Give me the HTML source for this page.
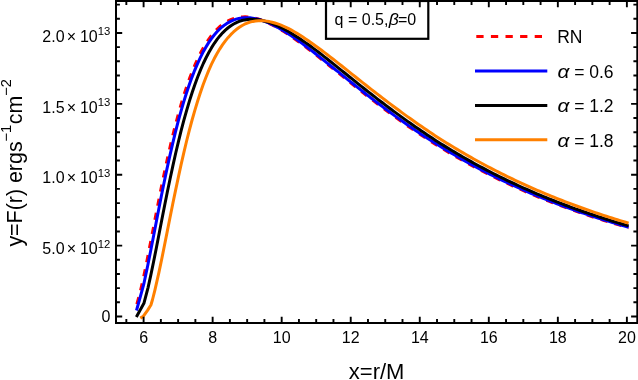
<!DOCTYPE html>
<html><head><meta charset="utf-8"><title>plot</title>
<style>html,body{margin:0;padding:0;background:#fff;overflow:hidden}body{width:638px;height:380px;position:relative;font-family:"Liberation Sans",sans-serif}</style>
</head><body>
<svg width="638" height="380" viewBox="0 0 638 380" style="position:absolute;left:0;top:0;will-change:transform">
<rect x="0" y="0" width="638" height="380" fill="#fff"/>
<clipPath id="cp"><rect x="116.0" y="1.0" width="521.3" height="322.0"/></clipPath>
<g clip-path="url(#cp)" fill="none" stroke-linejoin="round" stroke-linecap="butt">
<path d="M136.70 304.79 L140.15 292.21 L143.60 277.03 L147.05 260.25 L151.19 239.05 L153.96 224.70 L156.72 210.45 L159.48 196.43 L162.24 182.78 L165.00 169.59 L167.76 156.93 L170.53 144.83 L173.29 133.35 L176.05 122.49 L178.81 112.26 L181.57 102.69 L184.33 93.72 L187.10 85.36 L189.86 77.62 L192.62 70.46 L195.38 63.86 L198.14 57.79 L200.90 52.28 L203.66 47.24 L206.43 42.67 L209.19 38.57 L211.95 34.90 L214.71 31.63 L217.47 28.74 L220.23 26.23 L223.00 24.06 L225.76 22.20 L228.52 20.66 L231.28 19.41 L234.04 18.41 L236.80 17.67 L239.57 17.18 L242.33 16.90 L245.09 16.83 L247.85 16.95 L250.61 17.26 L253.37 17.73 L256.14 18.40 L258.90 19.23 L261.66 20.19 L264.42 21.28 L267.18 22.49 L269.94 23.80 L272.70 25.21 L275.47 26.71 L278.23 28.26 L280.99 29.89 L283.75 31.59 L286.51 33.35 L289.27 35.18 L292.04 37.06 L294.80 38.98 L297.56 40.96 L300.32 42.97 L303.08 45.02 L305.84 47.10 L308.61 49.21 L311.37 51.34 L314.13 53.49 L316.89 55.67 L319.65 57.86 L322.41 60.06 L325.18 62.27 L327.94 64.49 L330.70 66.72 L333.46 68.95 L336.22 71.19 L338.98 73.43 L341.74 75.66 L344.51 77.89 L347.27 80.12 L350.03 82.35 L352.79 84.56 L355.55 86.77 L358.31 88.97 L361.08 91.17 L363.84 93.35 L366.60 95.51 L369.36 97.65 L372.12 99.79 L374.88 101.91 L377.65 104.01 L380.41 106.11 L383.17 108.18 L385.93 110.25 L388.69 112.29 L391.45 114.32 L394.22 116.34 L396.98 118.33 L399.74 120.31 L402.50 122.28 L405.26 124.22 L408.02 126.15 L410.78 128.06 L413.55 129.95 L416.31 131.83 L419.07 133.68 L421.83 135.52 L424.59 137.34 L427.35 139.15 L430.12 140.93 L432.88 142.70 L435.64 144.44 L438.40 146.17 L441.16 147.87 L443.92 149.55 L446.69 151.21 L449.45 152.86 L452.21 154.48 L454.97 156.09 L457.73 157.68 L460.49 159.26 L463.26 160.82 L466.02 162.36 L468.78 163.88 L471.54 165.38 L474.30 166.87 L477.06 168.35 L479.82 169.80 L482.59 171.24 L485.35 172.66 L488.11 174.07 L490.87 175.46 L493.63 176.83 L496.39 178.19 L499.16 179.54 L501.92 180.86 L504.68 182.18 L507.44 183.47 L510.20 184.76 L512.96 186.02 L515.73 187.28 L518.49 188.51 L521.25 189.74 L524.01 190.95 L526.77 192.14 L529.53 193.32 L532.30 194.49 L535.06 195.64 L537.82 196.78 L540.58 197.90 L543.34 199.01 L546.10 200.11 L548.86 201.20 L551.63 202.27 L554.39 203.33 L557.15 204.38 L559.91 205.42 L562.67 206.44 L565.43 207.46 L568.20 208.46 L570.96 209.45 L573.72 210.43 L576.48 211.39 L579.24 212.35 L582.00 213.29 L584.77 214.23 L587.53 215.15 L590.29 216.06 L593.05 216.96 L595.81 217.85 L598.57 218.73 L601.34 219.60 L604.10 220.46 L606.86 221.31 L609.62 222.16 L612.38 222.99 L615.14 223.81 L617.90 224.62 L620.67 225.42 L623.43 226.22 L626.19 227.00 L628.61 227.69" stroke="#ff0000" stroke-width="3" stroke-dasharray="7.2 7.18" stroke-dashoffset="-0.6"/>
<path d="M136.50 310.50 L143.60 284.97 L147.74 265.55 L150.50 251.69 L153.27 237.48 L156.03 223.17 L158.79 208.98 L161.55 195.04 L164.31 181.48 L167.07 168.39 L169.84 155.83 L172.60 143.85 L175.36 132.47 L178.12 121.72 L180.88 111.62 L183.64 102.12 L186.40 93.27 L189.17 85.02 L191.93 77.35 L194.69 70.29 L197.45 63.79 L200.21 57.81 L202.97 52.35 L205.74 47.40 L208.50 42.91 L211.26 38.86 L214.02 35.26 L216.78 32.05 L219.54 29.21 L222.31 26.75 L225.07 24.63 L227.83 22.82 L230.59 21.31 L233.35 20.09 L236.11 19.14 L238.88 18.43 L241.64 17.97 L244.40 17.72 L247.16 17.67 L249.92 17.81 L252.68 18.14 L255.44 18.63 L258.21 19.28 L260.97 20.07 L263.73 20.99 L266.49 22.04 L269.25 23.20 L272.01 24.48 L274.78 25.84 L277.54 27.30 L280.30 28.84 L283.06 30.46 L285.82 32.15 L288.58 33.90 L291.35 35.75 L294.11 37.65 L296.87 39.59 L299.63 41.58 L302.39 43.61 L305.15 45.68 L307.92 47.77 L310.68 49.90 L313.44 52.05 L316.20 54.22 L318.96 56.40 L321.72 58.61 L324.48 60.82 L327.25 63.05 L330.01 65.28 L332.77 67.50 L335.53 69.72 L338.29 71.94 L341.05 74.16 L343.82 76.38 L346.58 78.60 L349.34 80.82 L352.10 83.02 L354.86 85.23 L357.62 87.42 L360.39 89.61 L363.15 91.78 L365.91 93.95 L368.67 96.10 L371.43 98.24 L374.19 100.36 L376.96 102.48 L379.72 104.57 L382.48 106.66 L385.24 108.73 L388.00 110.78 L390.76 112.82 L393.52 114.84 L396.29 116.85 L399.05 118.84 L401.81 120.81 L404.57 122.77 L407.33 124.70 L410.09 126.62 L412.86 128.53 L415.62 130.41 L418.38 132.28 L421.14 134.13 L423.90 135.96 L426.66 137.77 L429.43 139.57 L432.19 141.35 L434.95 143.11 L437.71 144.84 L440.47 146.55 L443.23 148.24 L446.00 149.92 L448.76 151.57 L451.52 153.21 L454.28 154.83 L457.04 156.44 L459.80 158.02 L462.56 159.59 L465.33 161.14 L468.09 162.67 L470.85 164.19 L473.61 165.69 L476.37 167.17 L479.13 168.64 L481.90 170.09 L484.66 171.52 L487.42 172.94 L490.18 174.34 L492.94 175.72 L495.70 177.09 L498.47 178.44 L501.23 179.78 L503.99 181.10 L506.75 182.41 L509.51 183.70 L512.27 184.98 L515.04 186.24 L517.80 187.49 L520.56 188.72 L523.32 189.94 L526.08 191.14 L528.84 192.33 L531.60 193.51 L534.37 194.67 L537.13 195.82 L539.89 196.95 L542.65 198.07 L545.41 199.18 L548.17 200.28 L550.94 201.36 L553.70 202.43 L556.46 203.49 L559.22 204.54 L561.98 205.57 L564.74 206.59 L567.51 207.60 L570.27 208.60 L573.03 209.59 L575.79 210.56 L578.55 211.53 L581.31 212.48 L584.08 213.42 L586.84 214.35 L589.60 215.27 L592.36 216.18 L595.12 217.08 L597.88 217.97 L600.64 218.85 L603.41 219.71 L606.17 220.57 L608.93 221.42 L611.69 222.26 L614.45 223.09 L617.21 223.91 L619.98 224.72 L622.74 225.52 L625.50 226.31 L628.61 227.20" stroke="#0000ff" stroke-width="3"/>
<path d="M136.35 316.90 L143.91 303.33 L148.05 287.55 L150.81 275.16 L153.58 261.82 L156.34 247.93 L159.10 233.77 L161.86 219.58 L164.62 205.54 L167.38 191.80 L170.15 178.46 L172.91 165.61 L175.67 153.29 L178.43 141.56 L181.19 130.44 L183.95 119.94 L186.72 110.08 L189.48 100.83 L192.24 92.18 L195.00 84.16 L197.76 76.72 L200.52 69.84 L203.29 63.51 L206.05 57.74 L208.81 52.45 L211.57 47.64 L214.33 43.31 L217.09 39.41 L219.85 35.92 L222.62 32.83 L225.38 30.12 L228.14 27.76 L230.90 25.72 L233.66 24.01 L236.42 22.59 L239.19 21.44 L241.95 20.55 L244.71 19.91 L247.47 19.50 L250.23 19.30 L252.99 19.30 L255.76 19.47 L258.52 19.80 L261.28 20.30 L264.04 20.94 L266.80 21.72 L269.56 22.62 L272.33 23.64 L275.09 24.77 L277.85 26.00 L280.61 27.32 L283.37 28.72 L286.13 30.21 L288.89 31.78 L291.66 33.44 L294.42 35.18 L297.18 36.96 L299.94 38.80 L302.70 40.68 L305.46 42.61 L308.23 44.57 L310.99 46.57 L313.75 48.60 L316.51 50.67 L319.27 52.79 L322.03 54.94 L324.80 57.10 L327.56 59.28 L330.32 61.48 L333.08 63.68 L335.84 65.88 L338.60 68.10 L341.37 70.32 L344.13 72.54 L346.89 74.76 L349.65 76.98 L352.41 79.20 L355.17 81.42 L357.93 83.63 L360.70 85.84 L363.46 88.04 L366.22 90.22 L368.98 92.39 L371.74 94.54 L374.50 96.69 L377.27 98.82 L380.03 100.94 L382.79 103.05 L385.55 105.15 L388.31 107.23 L391.07 109.30 L393.84 111.35 L396.60 113.39 L399.36 115.41 L402.12 117.41 L404.88 119.40 L407.64 121.38 L410.41 123.33 L413.17 125.27 L415.93 127.19 L418.69 129.10 L421.45 130.98 L424.21 132.85 L426.97 134.71 L429.74 136.54 L432.50 138.36 L435.26 140.16 L438.02 141.93 L440.78 143.67 L443.54 145.39 L446.31 147.10 L449.07 148.79 L451.83 150.46 L454.59 152.11 L457.35 153.75 L460.11 155.37 L462.88 156.97 L465.64 158.55 L468.40 160.12 L471.16 161.67 L473.92 163.20 L476.68 164.71 L479.45 166.21 L482.21 167.69 L484.97 169.16 L487.73 170.61 L490.49 172.04 L493.25 173.46 L496.01 174.86 L498.78 176.24 L501.54 177.61 L504.30 178.96 L507.06 180.30 L509.82 181.62 L512.58 182.93 L515.35 184.22 L518.11 185.50 L520.87 186.76 L523.63 188.01 L526.39 189.24 L529.15 190.45 L531.92 191.65 L534.68 192.84 L537.44 194.01 L540.20 195.17 L542.96 196.31 L545.72 197.44 L548.49 198.56 L551.25 199.66 L554.01 200.76 L556.77 201.84 L559.53 202.90 L562.29 203.96 L565.05 205.00 L567.82 206.03 L570.58 207.05 L573.34 208.06 L576.10 209.05 L578.86 210.03 L581.62 211.01 L584.39 211.97 L587.15 212.92 L589.91 213.85 L592.67 214.78 L595.43 215.70 L598.19 216.61 L600.96 217.50 L603.72 218.39 L606.48 219.26 L609.24 220.13 L612.00 220.98 L614.76 221.83 L617.53 222.67 L620.29 223.49 L623.05 224.31 L625.81 225.12 L628.61 225.93" stroke="#000000" stroke-width="3"/>
<path d="M140.30 318.10 L143.40 316.20 L147.70 310.10 L150.90 305.00 L152.40 300.00 L153.30 296.50 L154.78 290.61 L158.93 272.44 L161.69 259.23 L164.45 245.54 L167.21 231.64 L169.97 217.75 L172.73 204.03 L175.50 190.62 L178.26 177.59 L181.02 164.94 L183.78 152.82 L186.54 141.27 L189.30 130.32 L192.07 119.99 L194.83 110.29 L197.59 101.19 L200.35 92.68 L203.11 84.77 L205.87 77.46 L208.64 70.69 L211.40 64.44 L214.16 58.83 L216.92 53.73 L219.68 49.08 L222.44 44.89 L225.21 41.09 L227.97 37.67 L230.73 34.65 L233.49 31.96 L236.25 29.54 L239.01 27.47 L241.77 25.70 L244.54 24.22 L247.30 23.04 L250.06 22.10 L252.82 21.41 L255.58 20.95 L258.34 20.70 L261.11 20.66 L263.87 20.79 L266.63 21.12 L269.39 21.60 L272.15 22.23 L274.91 23.01 L277.68 23.92 L280.44 24.95 L283.20 26.09 L285.96 27.34 L288.72 28.69 L291.48 30.16 L294.25 31.72 L297.01 33.35 L299.77 35.06 L302.53 36.82 L305.29 38.65 L308.05 40.53 L310.81 42.45 L313.58 44.42 L316.34 46.43 L319.10 48.46 L321.86 50.52 L324.62 52.61 L327.38 54.72 L330.15 56.85 L332.91 59.00 L335.67 61.16 L338.43 63.33 L341.19 65.51 L343.95 67.70 L346.72 69.90 L349.48 72.10 L352.24 74.30 L355.00 76.50 L357.76 78.71 L360.52 80.91 L363.29 83.11 L366.05 85.29 L368.81 87.45 L371.57 89.60 L374.33 91.75 L377.09 93.89 L379.85 96.01 L382.62 98.13 L385.38 100.24 L388.14 102.33 L390.90 104.41 L393.66 106.48 L396.42 108.53 L399.19 110.57 L401.95 112.60 L404.71 114.61 L407.47 116.60 L410.23 118.58 L412.99 120.54 L415.76 122.49 L418.52 124.41 L421.28 126.33 L424.04 128.22 L426.80 130.10 L429.56 131.96 L432.33 133.80 L435.09 135.63 L437.85 137.43 L440.61 139.19 L443.37 140.94 L446.13 142.66 L448.89 144.37 L451.66 146.06 L454.42 147.74 L457.18 149.39 L459.94 151.03 L462.70 152.65 L465.46 154.26 L468.23 155.84 L470.99 157.41 L473.75 158.97 L476.51 160.50 L479.27 162.02 L482.03 163.52 L484.80 165.01 L487.56 166.47 L490.32 167.93 L493.08 169.36 L495.84 170.78 L498.60 172.19 L501.37 173.57 L504.13 174.94 L506.89 176.30 L509.65 177.64 L512.41 178.97 L515.17 180.28 L517.93 181.57 L520.70 182.85 L523.46 184.12 L526.22 185.38 L528.98 186.62 L531.74 187.85 L534.50 189.07 L537.27 190.27 L540.03 191.46 L542.79 192.64 L545.55 193.80 L548.31 194.95 L551.07 196.08 L553.84 197.20 L556.60 198.31 L559.36 199.41 L562.12 200.49 L564.88 201.56 L567.64 202.62 L570.41 203.67 L573.17 204.70 L575.93 205.72 L578.69 206.73 L581.45 207.73 L584.21 208.72 L586.97 209.70 L589.74 210.66 L592.50 211.61 L595.26 212.56 L598.02 213.49 L600.78 214.41 L603.54 215.32 L606.31 216.22 L609.07 217.11 L611.83 217.99 L614.59 218.86 L617.35 219.72 L620.11 220.57 L622.88 221.41 L625.64 222.24 L628.61 223.13" stroke="#ff8000" stroke-width="3"/>
</g>
<rect x="326.0" y="1" width="102.3" height="37.8" fill="#fff" stroke="#000" stroke-width="2.2"/>
<path d="M126.34 323.00 V319.10 M126.34 1.00 V4.90 M143.60 323.00 V316.80 M143.60 1.00 V7.20 M160.86 323.00 V319.10 M160.86 1.00 V4.90 M178.12 323.00 V319.10 M178.12 1.00 V4.90 M195.38 323.00 V319.10 M195.38 1.00 V4.90 M212.64 323.00 V316.80 M212.64 1.00 V7.20 M229.90 323.00 V319.10 M229.90 1.00 V4.90 M247.16 323.00 V319.10 M247.16 1.00 V4.90 M264.42 323.00 V319.10 M264.42 1.00 V4.90 M281.68 323.00 V316.80 M281.68 1.00 V7.20 M298.94 323.00 V319.10 M298.94 1.00 V4.90 M316.20 323.00 V319.10 M316.20 1.00 V4.90 M333.46 323.00 V319.10 M333.46 1.00 V4.90 M350.72 323.00 V316.80 M350.72 1.00 V7.20 M367.98 323.00 V319.10 M367.98 1.00 V4.90 M385.24 323.00 V319.10 M385.24 1.00 V4.90 M402.50 323.00 V319.10 M402.50 1.00 V4.90 M419.76 323.00 V316.80 M419.76 1.00 V7.20 M437.02 323.00 V319.10 M437.02 1.00 V4.90 M454.28 323.00 V319.10 M454.28 1.00 V4.90 M471.54 323.00 V319.10 M471.54 1.00 V4.90 M488.80 323.00 V316.80 M488.80 1.00 V7.20 M506.06 323.00 V319.10 M506.06 1.00 V4.90 M523.32 323.00 V319.10 M523.32 1.00 V4.90 M540.58 323.00 V319.10 M540.58 1.00 V4.90 M557.84 323.00 V316.80 M557.84 1.00 V7.20 M575.10 323.00 V319.10 M575.10 1.00 V4.90 M592.36 323.00 V319.10 M592.36 1.00 V4.90 M609.62 323.00 V319.10 M609.62 1.00 V4.90 M626.88 323.00 V316.80 M626.88 1.00 V7.20 M116.00 316.50 H122.20 M637.30 316.50 H631.10 M116.00 302.32 H119.90 M637.30 302.32 H633.40 M116.00 288.14 H119.90 M637.30 288.14 H633.40 M116.00 273.97 H119.90 M637.30 273.97 H633.40 M116.00 259.79 H119.90 M637.30 259.79 H633.40 M116.00 245.61 H122.20 M637.30 245.61 H631.10 M116.00 231.43 H119.90 M637.30 231.43 H633.40 M116.00 217.25 H119.90 M637.30 217.25 H633.40 M116.00 203.08 H119.90 M637.30 203.08 H633.40 M116.00 188.90 H119.90 M637.30 188.90 H633.40 M116.00 174.72 H122.20 M637.30 174.72 H631.10 M116.00 160.54 H119.90 M637.30 160.54 H633.40 M116.00 146.36 H119.90 M637.30 146.36 H633.40 M116.00 132.19 H119.90 M637.30 132.19 H633.40 M116.00 118.01 H119.90 M637.30 118.01 H633.40 M116.00 103.83 H122.20 M637.30 103.83 H631.10 M116.00 89.65 H119.90 M637.30 89.65 H633.40 M116.00 75.47 H119.90 M637.30 75.47 H633.40 M116.00 61.30 H119.90 M637.30 61.30 H633.40 M116.00 47.12 H119.90 M637.30 47.12 H633.40 M116.00 32.94 H122.20 M637.30 32.94 H631.10 M116.00 18.76 H119.90 M637.30 18.76 H633.40 M116.00 4.58 H119.90 M637.30 4.58 H633.40" stroke="#000" stroke-width="1.9" fill="none"/>
<rect x="116.0" y="1.0" width="521.3" height="322.0" fill="none" stroke="#000" stroke-width="2"/>
<g font-family="Liberation Sans, sans-serif" fill="#000">
<text x="143.6" y="342.6" font-size="16" text-anchor="middle">6</text>
<text x="212.6" y="342.6" font-size="16" text-anchor="middle">8</text>
<text x="281.7" y="342.6" font-size="16" text-anchor="middle">10</text>
<text x="350.7" y="342.6" font-size="16" text-anchor="middle">12</text>
<text x="419.8" y="342.6" font-size="16" text-anchor="middle">14</text>
<text x="488.8" y="342.6" font-size="16" text-anchor="middle">16</text>
<text x="557.8" y="342.6" font-size="16" text-anchor="middle">18</text>
<text x="626.9" y="342.6" font-size="16" text-anchor="middle">20</text>
<text x="42.3" y="41.6" font-size="16">2.0</text>
<text x="71.4" y="41.6" font-size="16" text-anchor="middle">×</text>
<text x="79.9" y="41.6" font-size="16">10</text>
<text x="97.7" y="34.9" font-size="11.3">13</text>
<text x="42.3" y="112.5" font-size="16">1.5</text>
<text x="71.4" y="112.5" font-size="16" text-anchor="middle">×</text>
<text x="79.9" y="112.5" font-size="16">10</text>
<text x="97.7" y="105.8" font-size="11.3">13</text>
<text x="42.3" y="183.4" font-size="16">1.0</text>
<text x="71.4" y="183.4" font-size="16" text-anchor="middle">×</text>
<text x="79.9" y="183.4" font-size="16">10</text>
<text x="97.7" y="176.7" font-size="11.3">13</text>
<text x="42.3" y="254.3" font-size="16">5.0</text>
<text x="71.4" y="254.3" font-size="16" text-anchor="middle">×</text>
<text x="79.9" y="254.3" font-size="16">10</text>
<text x="97.7" y="247.6" font-size="11.3">12</text>
<text x="110.3" y="322.0" font-size="16" text-anchor="end">0</text>
<text x="348.8" y="378.7" font-size="22">x=r/M</text>
<text transform="translate(22,246.6) rotate(-90)" font-size="21.4">y=F(r) ergs<tspan font-size="14.6" dy="-11.4">−1</tspan><tspan dy="11.4" dx="0.6">cm</tspan><tspan font-size="14.6" dy="-11.4">−2</tspan></text>
<text x="334.6" y="25" font-size="16">q = 0.5,</text>
<text transform="translate(388.8,25) scale(1.1,1)" font-size="16" font-style="italic">β</text>
<text x="398.0" y="25" font-size="16">=0</text>
<path d="M475 36.4 H547.3" stroke="#ff0000" stroke-width="3" fill="none" stroke-dasharray="7.3 7.3" stroke-dashoffset="-1.3"/>
<path d="M475 70.9 H547.3" stroke="#0000ff" stroke-width="3" fill="none"/>
<path d="M475 105.4 H547.3" stroke="#000" stroke-width="3" fill="none"/>
<path d="M475 139.8 H547.3" stroke="#ff8000" stroke-width="3" fill="none"/>
<text x="557.2" y="43.2" font-size="17.5">RN</text>
<text transform="translate(557.6,77.7) scale(1.19,1)" font-size="17.5" font-style="italic">α</text>
<text x="574.2" y="77.7" font-size="17.5">= 0.6</text>
<text transform="translate(557.6,111.8) scale(1.19,1)" font-size="17.5" font-style="italic">α</text>
<text x="574.2" y="111.8" font-size="17.5">= 1.2</text>
<text transform="translate(557.6,146.5) scale(1.19,1)" font-size="17.5" font-style="italic">α</text>
<text x="574.2" y="146.5" font-size="17.5">= 1.8</text>
</g></svg>
</body></html>
